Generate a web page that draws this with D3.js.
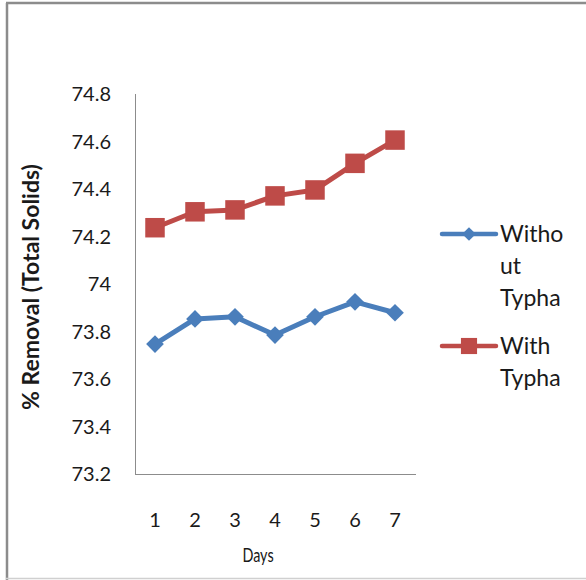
<!DOCTYPE html>
<html>
<head>
<meta charset="utf-8">
<script src="https://cdn.jsdelivr.net/npm/d3@7"></script>
<style>
  body { margin: 0; background: #fff; }
  svg { display: block; font-family: Lato, "Open Sans", sans-serif; }
</style>
</head>
<body>
<div id="chart"></div>
<script>
var days = ["1", "2", "3", "4", "5", "6", "7"];
var withoutTypha = [73.747, 73.853, 73.862, 73.785, 73.862, 73.925, 73.879];
var withTypha = [74.237, 74.304, 74.312, 74.371, 74.396, 74.508, 74.606];
var yTicks = [73.2, 73.4, 73.6, 73.8, 74, 74.2, 74.4, 74.6, 74.8];
var seriesNames = [["Witho", "ut", "Typha"], ["With", "Typha"]];

var width = 586, height = 580;
var svg = d3.select("#chart").append("svg")
  .attr("width", width)
  .attr("height", height);

// outer frame (left, top, bottom only)
svg.append("line").attr("x1", 7).attr("x2", 7).attr("y1", 3).attr("y2", 580)
  .attr("stroke", "#8c8c8c").attr("stroke-width", 2.5);
svg.append("line").attr("x1", 6).attr("x2", 586).attr("y1", 3).attr("y2", 3)
  .attr("stroke", "#8c8c8c").attr("stroke-width", 2.5);
svg.append("line").attr("x1", 6).attr("x2", 586).attr("y1", 578.5).attr("y2", 578.5)
  .attr("stroke", "#d0d0d0").attr("stroke-width", 1.5);

var x = d3.scalePoint().domain(days).range([135, 415]).padding(0.5);
var y = d3.scaleLinear().domain([73.2, 74.8]).range([474, 94]);

// axes
svg.append("line").attr("x1", 135.5).attr("x2", 135.5).attr("y1", y(74.8)).attr("y2", y(73.2))
  .attr("stroke", "#8c8c8c").attr("stroke-width", 1);
svg.append("line").attr("x1", 135).attr("x2", 416).attr("y1", y(73.2) + 0.5).attr("y2", y(73.2) + 0.5)
  .attr("stroke", "#8c8c8c").attr("stroke-width", 1);

svg.selectAll(".ytick").data(yTicks).enter().append("text")
  .attr("class", "ytick")
  .attr("x", 111)
  .attr("y", function (d) { return y(d); })
  .attr("dy", "0.35em")
  .attr("text-anchor", "end")
  .attr("font-size", 20)
  .attr("fill", "#1a1a1a")
  .text(function (d) { return d; });

svg.selectAll(".xtick").data(days).enter().append("text")
  .attr("class", "xtick")
  .attr("x", function (d) { return x(d); })
  .attr("y", 520)
  .attr("dy", "0.35em")
  .attr("text-anchor", "middle")
  .attr("font-size", 20)
  .attr("fill", "#1a1a1a")
  .text(function (d) { return d; });

svg.append("text")
  .attr("transform", "translate(258,555) scale(0.72,1)")
  .attr("text-anchor", "middle")
  .attr("dy", "0.35em")
  .attr("font-size", 20)
  .attr("fill", "#1a1a1a")
  .text("Days");

svg.append("text")
  .attr("transform", "translate(31,287) rotate(-90)")
  .attr("text-anchor", "middle")
  .attr("dy", "0.35em")
  .attr("font-size", 23)
  .attr("font-weight", "bold")
  .attr("fill", "#1a1a1a")
  .text("% Removal (Total Solids)");

var line = d3.line()
  .x(function (d, i) { return x(days[i]); })
  .y(function (d) { return y(d); });

var blue = "#4a7ebb", red = "#be4b48";
var diamond = d3.symbol().type(d3.symbolDiamond2).size(200);
var square = d3.symbol().type(d3.symbolSquare).size(380);

svg.append("path").datum(withTypha).attr("d", line)
  .attr("fill", "none").attr("stroke", red).attr("stroke-width", 5).attr("stroke-linejoin", "round");
svg.selectAll(".sq").data(withTypha).enter().append("path")
  .attr("class", "sq")
  .attr("transform", function (d, i) { return "translate(" + x(days[i]) + "," + y(d) + ")"; })
  .attr("d", square)
  .attr("fill", red);

svg.append("path").datum(withoutTypha).attr("d", line)
  .attr("fill", "none").attr("stroke", blue).attr("stroke-width", 5).attr("stroke-linejoin", "round");
svg.selectAll(".dm").data(withoutTypha).enter().append("path")
  .attr("class", "dm")
  .attr("transform", function (d, i) { return "translate(" + x(days[i]) + "," + y(d) + ")"; })
  .attr("d", diamond)
  .attr("fill", blue);

// legend
var legendY = [234, 346];
var legendColor = [blue, red];
var legendSym = [d3.symbol().type(d3.symbolDiamond2).size(120), d3.symbol().type(d3.symbolSquare).size(260)];
seriesNames.forEach(function (lines, k) {
  var g = svg.append("g");
  g.append("line").attr("x1", 442).attr("x2", 496).attr("y1", legendY[k]).attr("y2", legendY[k])
    .attr("stroke", legendColor[k]).attr("stroke-width", 4.5).attr("stroke-linecap", "round");
  g.append("path").attr("transform", "translate(469," + legendY[k] + ")")
    .attr("d", legendSym[k]).attr("fill", legendColor[k]);
  lines.forEach(function (t, j) {
    g.append("text")
      .attr("x", 500)
      .attr("y", legendY[k] + j * 32)
      .attr("dy", "0.35em")
      .attr("font-size", 23)
      .attr("fill", "#1a1a1a")
      .text(t);
  });
});
</script>
</body>
</html>
